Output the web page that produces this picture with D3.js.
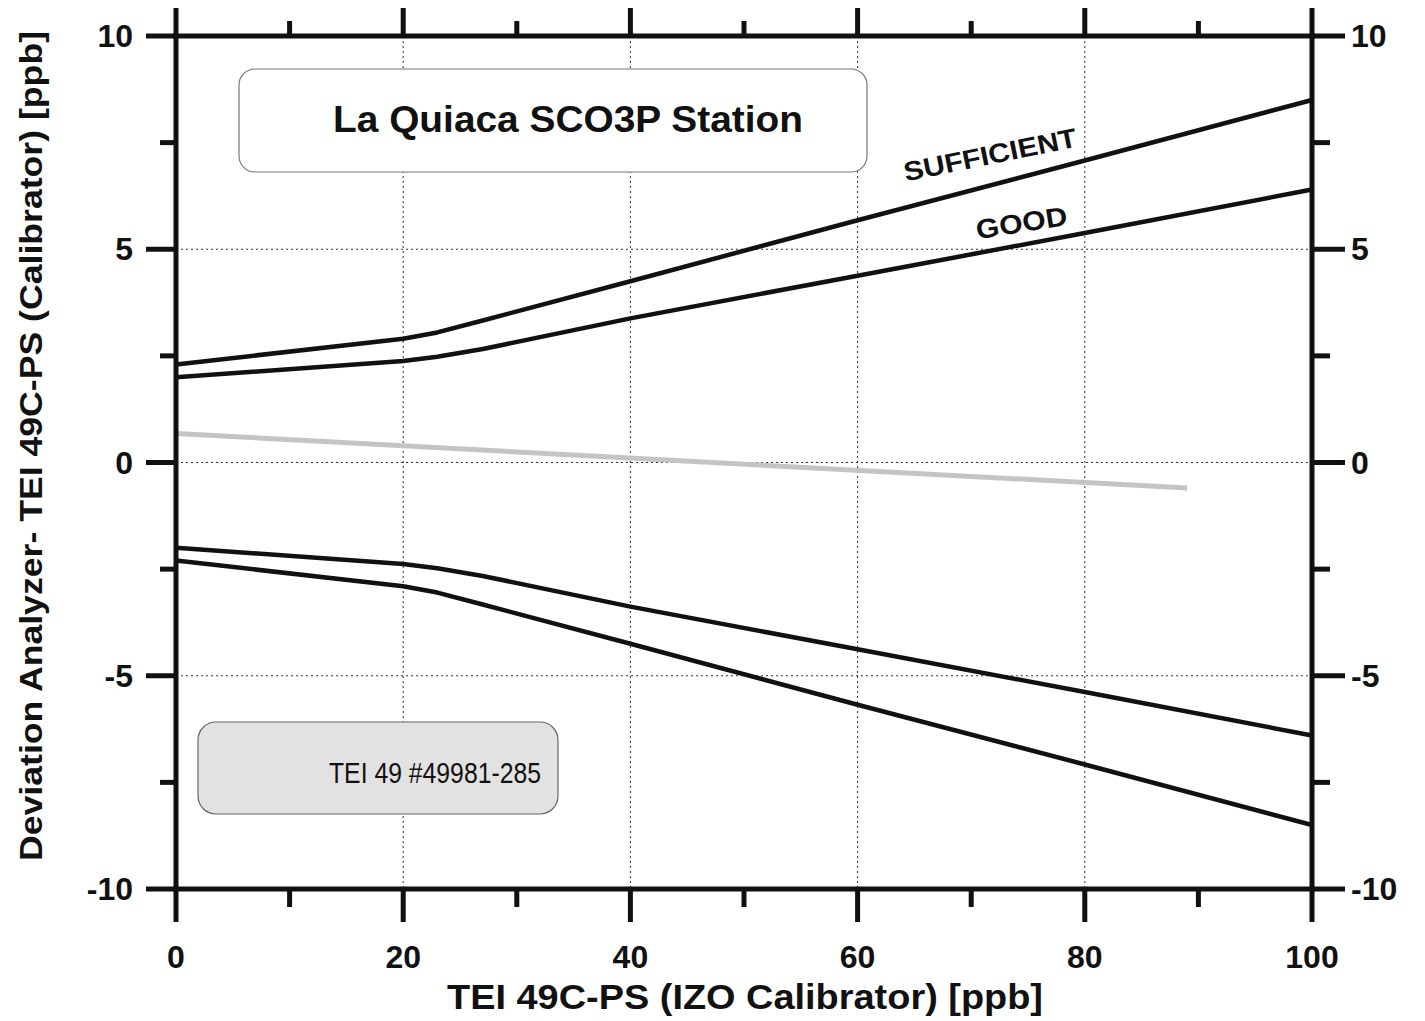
<!DOCTYPE html>
<html>
<head>
<meta charset="utf-8">
<script src="https://cdn.jsdelivr.net/npm/d3@7"></script>
<style>
  html, body { margin: 0; padding: 0; background: #fff; }
  svg { display: block; font-family: "Liberation Sans", Arial, sans-serif; }
</style>
</head>
<body>
<svg id="chart" width="1425" height="1021"></svg>
<script>
// Data
const xTicks = [0, 20, 40, 60, 80, 100];
const xMinor = [10, 30, 50, 70, 90];
const yTicks = [-10, -5, 0, 5, 10];
const yMinor = [-7.5, -2.5, 2.5, 7.5];
const gridX = [20, 40, 60, 80];
const gridY = [-5, 0, 5];

const limitX     = [0, 20, 23, 27, 40, 60, 80, 100];
const sufficient = [2.3, 2.9, 3.05, 3.33, 4.25, 5.68, 7.08, 8.5];
const good       = [2.0, 2.38, 2.48, 2.66, 3.38, 4.38, 5.38, 6.4];

const fitX = [0, 89];
const fitY = [0.68, -0.6];

// Layout
const svg = d3.select("#chart");
const M = { left: 176, right: 1312, top: 36, bottom: 889 };

const x = d3.scaleLinear().domain([0, 100]).range([M.left, M.right]);
const y = d3.scaleLinear().domain([-10, 10]).range([M.bottom, M.top]);

const line = (xs, ys) => d3.line()
  .x((d, i) => x(xs[i]))
  .y(d => y(d))(ys);

// Grid
const grid = svg.append("g");
gridX.forEach(v => grid.append("line")
  .attr("x1", x(v)).attr("x2", x(v)).attr("y1", M.top).attr("y2", M.bottom)
  .attr("stroke", "#333").attr("stroke-width", 1).attr("stroke-dasharray", "2 3"));
gridY.forEach(v => grid.append("line")
  .attr("x1", M.left).attr("x2", M.right).attr("y1", y(v)).attr("y2", y(v))
  .attr("stroke", "#333").attr("stroke-width", 1).attr("stroke-dasharray", "2 3"));

// Boxes
svg.append("rect")
  .attr("x", 239).attr("y", 69).attr("width", 628).attr("height", 103)
  .attr("rx", 16).attr("fill", "#fff").attr("stroke", "#777").attr("stroke-width", 1.2);
svg.append("text")
  .attr("x", 568).attr("y", 132).attr("text-anchor", "middle")
  .attr("font-size", 37).attr("font-weight", "bold").attr("fill", "#111")
  .attr("textLength", 470).attr("lengthAdjust", "spacingAndGlyphs")
  .text("La Quiaca SCO3P Station");

svg.append("rect")
  .attr("x", 198).attr("y", 722).attr("width", 360).attr("height", 92)
  .attr("rx", 18).attr("fill", "#e2e2e2").attr("stroke", "#666").attr("stroke-width", 1.2);
svg.append("text")
  .attr("x", 541).attr("y", 783).attr("text-anchor", "end")
  .attr("font-size", 29).attr("fill", "#111")
  .attr("textLength", 212).attr("lengthAdjust", "spacingAndGlyphs")
  .text("TEI 49 #49981-285");

// Fit line (gray)
svg.append("path").attr("d", line(fitX, fitY))
  .attr("fill", "none").attr("stroke", "#c4c4c4").attr("stroke-width", 5);

// Limit curves
[sufficient, good].forEach(s => {
  svg.append("path").attr("d", line(limitX, s))
    .attr("fill", "none").attr("stroke", "#111").attr("stroke-width", 4.5)
    .attr("stroke-linejoin", "round");
  svg.append("path").attr("d", line(limitX, s.map(v => -v)))
    .attr("fill", "none").attr("stroke", "#111").attr("stroke-width", 4.5)
    .attr("stroke-linejoin", "round");
});

// Curve labels
svg.append("text")
  .attr("transform", "translate(992,164) rotate(-11.5)")
  .attr("text-anchor", "middle").attr("font-size", 27).attr("font-weight", "bold")
  .attr("fill", "#111").attr("textLength", 176).attr("lengthAdjust", "spacingAndGlyphs")
  .text("SUFFICIENT");
svg.append("text")
  .attr("transform", "translate(1023,232) rotate(-9)")
  .attr("text-anchor", "middle").attr("font-size", 27).attr("font-weight", "bold")
  .attr("fill", "#111").attr("textLength", 92).attr("lengthAdjust", "spacingAndGlyphs")
  .text("GOOD");

// Frame
const axes = svg.append("g").attr("stroke", "#111").attr("stroke-width", 5).attr("stroke-linecap", "butt");
axes.append("line").attr("x1", M.left - 3).attr("x2", M.right + 3).attr("y1", M.top).attr("y2", M.top);
axes.append("line").attr("x1", M.left - 3).attr("x2", M.right + 3).attr("y1", M.bottom).attr("y2", M.bottom);
axes.append("line").attr("x1", M.left).attr("x2", M.left).attr("y1", M.top).attr("y2", M.bottom);
axes.append("line").attr("x1", M.right).attr("x2", M.right).attr("y1", M.top).attr("y2", M.bottom);

// Ticks
xTicks.forEach(v => {
  axes.append("line").attr("x1", x(v)).attr("x2", x(v)).attr("y1", M.bottom).attr("y2", M.bottom + 33);
  axes.append("line").attr("x1", x(v)).attr("x2", x(v)).attr("y1", M.top).attr("y2", M.top - 28);
});
xMinor.forEach(v => {
  axes.append("line").attr("x1", x(v)).attr("x2", x(v)).attr("y1", M.bottom).attr("y2", M.bottom + 18);
  axes.append("line").attr("x1", x(v)).attr("x2", x(v)).attr("y1", M.top).attr("y2", M.top - 15);
});
yTicks.forEach(v => {
  axes.append("line").attr("x1", M.left).attr("x2", M.left - 30).attr("y1", y(v)).attr("y2", y(v));
  axes.append("line").attr("x1", M.right).attr("x2", M.right + 33).attr("y1", y(v)).attr("y2", y(v));
});
yMinor.forEach(v => {
  axes.append("line").attr("x1", M.left).attr("x2", M.left - 16).attr("y1", y(v)).attr("y2", y(v));
  axes.append("line").attr("x1", M.right).attr("x2", M.right + 18).attr("y1", y(v)).attr("y2", y(v));
});

// Tick labels
const lbl = svg.append("g").attr("font-size", 32).attr("font-weight", "bold").attr("fill", "#111");
xTicks.forEach(v => lbl.append("text")
  .attr("x", x(v)).attr("y", 968).attr("text-anchor", "middle").text(v));
yTicks.forEach(v => {
  lbl.append("text").attr("x", 133).attr("y", y(v) + 11).attr("text-anchor", "end").text(v);
  lbl.append("text").attr("x", 1351).attr("y", y(v) + 11).attr("text-anchor", "start").text(v);
});

// Axis titles
svg.append("text")
  .attr("x", 745).attr("y", 1009).attr("text-anchor", "middle")
  .attr("font-size", 35).attr("font-weight", "bold").attr("fill", "#111")
  .attr("textLength", 596).attr("lengthAdjust", "spacingAndGlyphs")
  .text("TEI 49C-PS (IZO Calibrator) [ppb]");
svg.append("text")
  .attr("transform", "translate(42,446) rotate(-90)")
  .attr("text-anchor", "middle").attr("font-size", 32).attr("font-weight", "bold").attr("fill", "#111")
  .attr("textLength", 830).attr("lengthAdjust", "spacingAndGlyphs")
  .text("Deviation Analyzer- TEI 49C-PS (Calibrator) [ppb]");
</script>
</body>
</html>
